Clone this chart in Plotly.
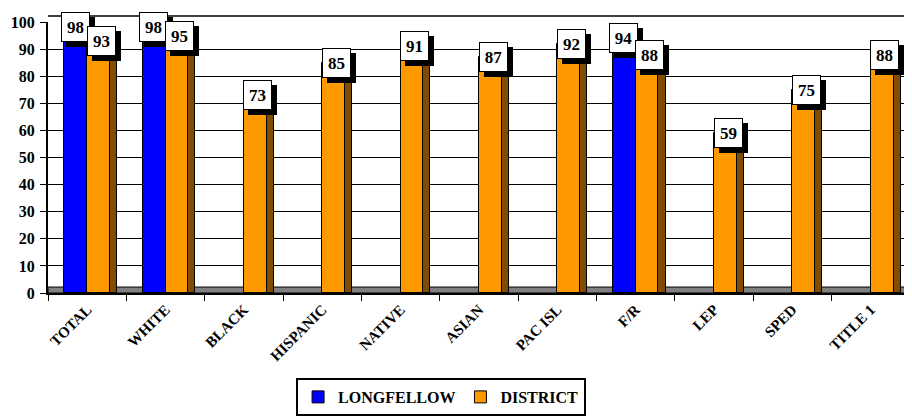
import plotly.graph_objects as go

categories = ['TOTAL', 'WHITE', 'BLACK', 'HISPANIC', 'NATIVE', 'ASIAN',
              'PAC ISL', 'F/R', 'LEP', 'SPED', 'TITLE 1']
longfellow = [98, 98, None, None, None, None, None, 94, None, None, None]
district = [93, 95, 73, 85, 91, 87, 92, 88, 59, 75, 88]
y_ticks = list(range(0, 101, 10))

FONT = 'Liberation Serif, Times New Roman, serif'
BAR_W = 0.29

fig = go.Figure()

fig.add_trace(go.Bar(
    x=categories, y=longfellow, name='<b>LONGFELLOW</b>',
    offset=-BAR_W, width=BAR_W,
    marker=dict(color='#0000FF', line=dict(color='black', width=1)),
))
fig.add_trace(go.Bar(
    x=categories, y=district, name='<b>DISTRICT</b>',
    offset=0, width=BAR_W,
    marker=dict(color='#FF9900', line=dict(color='black', width=1)),
))
# darker side face of the orange bars (fake 3d)
fig.add_trace(go.Bar(
    x=categories, y=district, showlegend=False, hoverinfo='skip',
    offset=BAR_W, width=0.09,
    marker=dict(color='#7F4C00', line=dict(color='black', width=1)),
))

# value boxes with a black drop shadow (shadow is an empty box)
def value_box(cat, val, xshift):
    common = dict(x=cat, y=val, xref='x', yref='y', showarrow=False,
                  borderpad=3, borderwidth=1, width=21, height=22,
                  font=dict(family=FONT, size=17, color='black'))
    fig.add_annotation(text=' ', xshift=xshift + 5, yshift=-5,
                       bgcolor='black', bordercolor='black', **common)
    fig.add_annotation(text='<b>' + str(val) + '</b>', xshift=xshift, yshift=0,
                       bgcolor='white', bordercolor='black', **common)

for c, v in zip(categories, longfellow):
    if v is not None:
        value_box(c, v, -12)
for c, v in zip(categories, district):
    value_box(c, v, 14)

# grey floor strip
fig.add_shape(type='rect', xref='paper', yref='y', x0=0, x1=1, y0=0, y1=2.2,
              fillcolor='#808080', line=dict(color='black', width=1), layer='below')
# top border of the wall
fig.add_shape(type='line', xref='paper', yref='paper', x0=0, x1=1, y0=1.022, y1=1.022,
              line=dict(color='black', width=1.5))

# the page body has an 8px margin, so the figure is a bit smaller than the window
fig.update_layout(
    width=904, height=408,
    margin=dict(l=40, r=2, t=14, b=123, autoexpand=False),
    paper_bgcolor='white', plot_bgcolor='white',
    barmode='overlay', bargap=0,
    font=dict(family=FONT, color='black'),
    legend=dict(
        orientation='h', x=0.456, xanchor='center',
        yref='container', y=0.0, yanchor='bottom',
        bordercolor='black', borderwidth=2, bgcolor='white',
        font=dict(family=FONT, size=16, color='black'),
        itemwidth=30, tracegroupgap=0,
    ),
)

fig.update_yaxes(
    range=[0, 100], tickvals=y_ticks, automargin=False,
    showgrid=True, gridcolor='black', gridwidth=1,
    showline=True, linecolor='black', linewidth=2,
    ticks='outside', ticklen=6, tickcolor='black', ticklabelstandoff=2,
    tickfont=dict(family=FONT, size=16, color='black', weight='bold'),
    zeroline=False,
)
fig.update_xaxes(
    type='category', tickangle=-45, automargin=False,
    showline=True, linecolor='black', linewidth=2, mirror=False,
    ticks='outside', tickson='boundaries', ticklen=6, tickcolor='black',
    tickfont=dict(family=FONT, size=15, color='black', weight='bold'),
)

fig.write_html('out.html')
